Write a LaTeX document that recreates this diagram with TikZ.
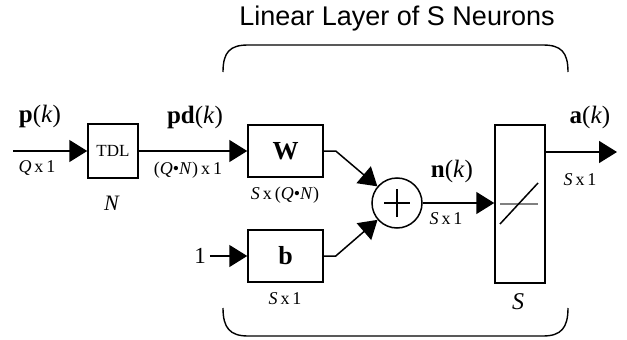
\documentclass[tikz,border=0pt]{standalone}
\usepackage{fontspec}
\setmainfont{Liberation Serif}
\newfontfamily\titlefont{Liberation Sans}
\usetikzlibrary{arrows.meta}
\begin{document}
\begin{tikzpicture}[x=1pt,y=-1pt,
  line width=1.5pt,
  blk/.style={draw, line width=1.5pt, inner sep=0pt},
  arr/.style={-{Triangle[length=18pt,width=22pt]}},
  big/.style={font=\fontsize{25}{27}\selectfont},
  small/.style={font=\fontsize{18}{20}\selectfont},
  brace/.style={line width=1.4pt},
]
\useasboundingbox (0,0) rectangle (627,340);

% blocks
\node[blk, minimum width=50pt, minimum height=54pt, font=\fontsize{17}{19}\selectfont] (tdl) at (113,151) {TDL};
\node[blk, minimum width=75pt, minimum height=52pt, font=\fontsize{26}{28}\selectfont] (W) at (285.5,151) {\textbf{W}};
\node[blk, minimum width=75pt, minimum height=52pt, font=\fontsize{26}{28}\selectfont] (b) at (285.5,256) {\textbf{b}};
\node[draw, circle, line width=1.5pt, minimum size=50pt, inner sep=0pt] (sum) at (397,203) {};
\draw[line width=1.5pt] ([xshift=-13pt]sum.center) -- ([xshift=13pt]sum.center);
\draw[line width=1.5pt] ([yshift=-14pt]sum.center) -- ([yshift=14pt]sum.center);
\node[blk, minimum width=50pt, minimum height=158pt] (tf) at (520,204) {};
\draw[gray, line width=1.2pt] ([xshift=-20pt]tf.center) -- ([xshift=18pt]tf.center);
\draw[line width=1.5pt] ([shift={(-20pt,-20pt)}]tf.center) -- ([shift={(18pt,21pt)}]tf.center);

% input / output coordinates
\coordinate (pin) at (13,151);
\coordinate (aout) at (617,152);
\node[font=\fontsize{23}{25}\selectfont] (one) at (200,256) {1};

% connectors
\draw[arr] (pin) -- (tdl);
\draw[arr] (tdl) -- (W);
\draw[arr] (W.east) -- ++(12pt,0) -- (sum);
\draw[arr] (b.east) -- ++(12pt,0) -- (sum);
\draw[arr] (one) -- (b);
\draw[arr] (sum) -- (tf.west |- sum);
\draw[arr] (tf.east |- aout) -- (aout);

% labels
\node[big] (lp) at (40,116) {\textbf{p}(\textit{k})};
\node[small] (lq) at (37,168) {\textit{Q}\,x\,1};
\node[font=\fontsize{22}{24}\selectfont] (lN) at (112,203) {\textit{N}};
\node[big] (lpd) at (195,117) {\textbf{pd}(\textit{k})};
\node[small] (lqn) at (188,170) {(\textit{Q}•\textit{N})\,x\,1};
\node[small] (lsqn) at (285,195) {\textit{S}\,x\,(\textit{Q}•\textit{N})};
\node[small] (lsb) at (285,299) {\textit{S}\,x\,1};
\node[big] (ln) at (452,171) {\textbf{n}(\textit{k})};
\node[small] (lsn) at (446,219) {\textit{S}\,x\,1};
\node[font=\fontsize{24}{26}\selectfont] (lS) at (518,302) {\textit{S}};
\node[big] (la) at (590,117) {\textbf{a}(\textit{k})};
\node[small] (lsa) at (580,180) {\textit{S}\,x\,1};
\node[font=\titlefont\fontsize{27}{29}\selectfont] (title) at (397,19) {Linear Layer of S Neurons};

% braces
\draw[brace] (223,72) .. controls (223,52) and (230,45) .. (248,45) -- (543,45) .. controls (561,45) and (568,52) .. (568,72);
\draw[brace] (223,308) .. controls (223,328) and (230,336) .. (248,336) -- (543,336) .. controls (561,336) and (568,328) .. (568,308);
\end{tikzpicture}
\end{document}
